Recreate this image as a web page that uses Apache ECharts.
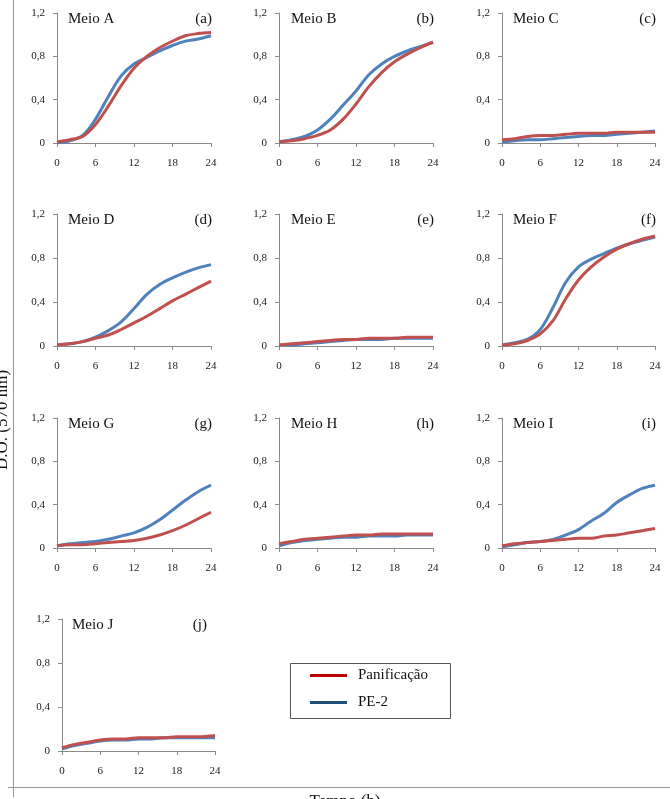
<!DOCTYPE html>
<html><head><meta charset="utf-8">
<script src="https://cdn.jsdelivr.net/npm/echarts@6/dist/echarts.min.js"></script>
<style>html,body{margin:0;padding:0;background:#fff}#c{width:670px;height:799px}</style>
</head><body><div id="c"></div>
<script>
const hours = [0,2,4,6,8,10,12,14,16,18,20,22,24];
const xTicks = [0,6,12,18,24];
const yTicks = [0,0.4,0.8,1.2];
const panelNames = ['Meio A','Meio B','Meio C','Meio D','Meio E','Meio F','Meio G','Meio H','Meio I','Meio J'];
const panelTags = ['(a)','(b)','(c)','(d)','(e)','(f)','(g)','(h)','(i)','(j)'];
const seriesNames = ['Panificação','PE-2'];

// Panificação (red)
const panA = [0.01,0.03,0.06,0.17,0.34,0.53,0.69,0.80,0.88,0.94,0.99,1.01,1.02];
const panB = [0.01,0.02,0.04,0.07,0.12,0.22,0.36,0.52,0.65,0.75,0.82,0.88,0.93];
const panC = [0.03,0.04,0.06,0.07,0.07,0.08,0.09,0.09,0.09,0.10,0.10,0.10,0.10];
const panD = [0.01,0.02,0.04,0.07,0.10,0.15,0.21,0.27,0.34,0.41,0.47,0.53,0.59];
const panE = [0.01,0.02,0.03,0.04,0.05,0.06,0.06,0.07,0.07,0.07,0.08,0.08,0.08];
const panF = [0.01,0.02,0.05,0.11,0.23,0.43,0.60,0.72,0.81,0.88,0.93,0.97,1.00];
const panG = [0.02,0.03,0.03,0.04,0.05,0.06,0.07,0.09,0.12,0.16,0.21,0.27,0.33];
const panH = [0.04,0.06,0.08,0.09,0.10,0.11,0.12,0.12,0.13,0.13,0.13,0.13,0.13];
const panI = [0.02,0.04,0.05,0.06,0.07,0.08,0.09,0.09,0.11,0.12,0.14,0.16,0.18];
const panJ = [0.03,0.06,0.08,0.10,0.11,0.11,0.12,0.12,0.12,0.13,0.13,0.13,0.14];

// PE-2 (blue)
const pe2A = [0.00,0.02,0.07,0.22,0.43,0.62,0.73,0.79,0.85,0.90,0.94,0.96,0.99];
const pe2B = [0.01,0.03,0.06,0.12,0.22,0.35,0.48,0.63,0.73,0.80,0.85,0.89,0.93];
const pe2C = [0.01,0.02,0.03,0.03,0.04,0.05,0.06,0.07,0.07,0.08,0.09,0.10,0.11];
const pe2D = [0.01,0.02,0.04,0.08,0.14,0.22,0.34,0.47,0.56,0.62,0.67,0.71,0.74];
const pe2E = [0.01,0.01,0.02,0.03,0.04,0.05,0.06,0.06,0.06,0.07,0.07,0.07,0.07];
const pe2F = [0.01,0.03,0.06,0.15,0.35,0.58,0.72,0.79,0.84,0.89,0.93,0.96,0.99];
const pe2G = [0.02,0.04,0.05,0.06,0.08,0.11,0.14,0.19,0.26,0.35,0.44,0.52,0.58];
const pe2H = [0.02,0.05,0.07,0.08,0.09,0.10,0.10,0.11,0.11,0.11,0.12,0.12,0.12];
const pe2I = [0.01,0.03,0.05,0.06,0.08,0.12,0.17,0.25,0.32,0.42,0.49,0.55,0.58];
const pe2J = [0.02,0.05,0.07,0.09,0.10,0.10,0.11,0.11,0.12,0.12,0.12,0.12,0.12];

const panData = [panA,panB,panC,panD,panE,panF,panG,panH,panI,panJ];
const pe2Data = [pe2A,pe2B,pe2C,pe2D,pe2E,pe2F,pe2G,pe2H,pe2I,pe2J];

// layout
const colL = [57,279,502];
const colW = [154,154,153];
const rowT = [13,214,418,619];
const rowH = [130,132,130,132];
const boxes = [];
for (let i=0;i<10;i++){
  const r = Math.floor(i/3), c = i%3;
  let left = colL[c], width = colW[c];
  if (r===3){ left = 62; width = 153; }
  boxes.push({left, top: rowT[r], width, height: rowH[r]});
}

const serif = 'Liberation Serif, Times New Roman, serif';
const axisColor = '#8a8a8a';
const RED = '#C0504D', BLUE = '#4F81BD';

const grids=[], xAxes=[], yAxes=[], series=[], titles=[];
boxes.forEach((b,i)=>{
  grids.push({left:b.left, top:b.top, width:b.width, height:b.height, containLabel:false});
  xAxes.push({type:'value', gridIndex:i, min:xTicks[0], max:xTicks[xTicks.length-1], interval:6,
    axisLine:{show:true,lineStyle:{color:axisColor,width:1}},
    axisTick:{show:true,inside:false,length:4,lineStyle:{color:axisColor}},
    splitLine:{show:false},
    axisLabel:{fontFamily:serif,fontSize:11,color:'#222',margin:15}});
  yAxes.push({type:'value', gridIndex:i, min:0, max:1.2, interval:0.4,
    axisLine:{show:true,lineStyle:{color:axisColor,width:1}},
    axisTick:{show:true,inside:false,length:4,lineStyle:{color:axisColor}},
    splitLine:{show:false},
    axisLabel:{fontFamily:serif,fontSize:11,color:'#222',margin:12,
      formatter:v=> v===0?'0':v.toFixed(1).replace('.',',')}});
  series.push({name:seriesNames[1], type:'line', xAxisIndex:i, yAxisIndex:i, smooth:0.35,
    showSymbol:false, color:BLUE, lineStyle:{width:3,color:BLUE}, silent:true,
    data: hours.map((h,k)=>[h,pe2Data[i][k]])});
  series.push({name:seriesNames[0], type:'line', xAxisIndex:i, yAxisIndex:i, smooth:0.35,
    showSymbol:false, color:RED, lineStyle:{width:3,color:RED}, silent:true,
    data: hours.map((h,k)=>[h,panData[i][k]])});
  const r = Math.floor(i/3);
  const nameOff = (i%3===0 && r<3) ? 11 : (i===9 ? 10 : (i%3===1 ? 12 : 11));
  titles.push({text:panelNames[i], left:b.left+nameOff, top:b.top-1, padding:0,
    textStyle:{fontFamily:serif,fontSize:15,fontWeight:'normal',color:'#111'}});
  const tagRight = (i===9) ? 207 : b.left+b.width+1;
  titles.push({text:panelTags[i], right:670-tagRight, top:b.top-1, padding:0,
    textStyle:{fontFamily:serif,fontSize:15,fontWeight:'normal',color:'#111'}});
});

const option = {
  backgroundColor:'#fff',
  animation:false,
  title: titles,
  grid: grids, xAxis: xAxes, yAxis: yAxes, series: series,
  legend:{
    orient:'vertical', left:310, top:668, padding:0, itemGap:12,
    itemWidth:37, itemHeight:3, icon:'rect', selectedMode:false,
    textStyle:{fontFamily:serif,fontSize:15,color:'#111',padding:[0,0,0,6]},
    data:[{name:seriesNames[0],itemStyle:{color:'#C00000'}},{name:seriesNames[1],itemStyle:{color:'#1F4E79'}}]
  },
  graphic:[
    {type:'rect', shape:{x:290.5,y:663.5,width:160,height:55}, style:{fill:'none',stroke:'#555',lineWidth:1}, silent:true},
    {type:'line', shape:{x1:13.5,y1:0,x2:13.5,y2:797}, style:{stroke:'#999',lineWidth:1}, silent:true},
    {type:'line', shape:{x1:8,y1:787.5,x2:670,y2:787.5}, style:{stroke:'#999',lineWidth:1}, silent:true},
    {type:'text', x:345, y:793, style:{text:'Tempo (h)', fontFamily:serif, fontSize:17, fill:'#111', textAlign:'center', textVerticalAlign:'top'}},
    {type:'text', x:3, y:420, rotation:Math.PI/2, style:{text:'D.O. (570 nm)', fontFamily:serif, fontSize:17, fill:'#111', textAlign:'center', textVerticalAlign:'middle'}}
  ]
};
const chart = echarts.init(document.getElementById('c'), null, {renderer:'canvas'});
chart.setOption(option);
</script></body></html>
